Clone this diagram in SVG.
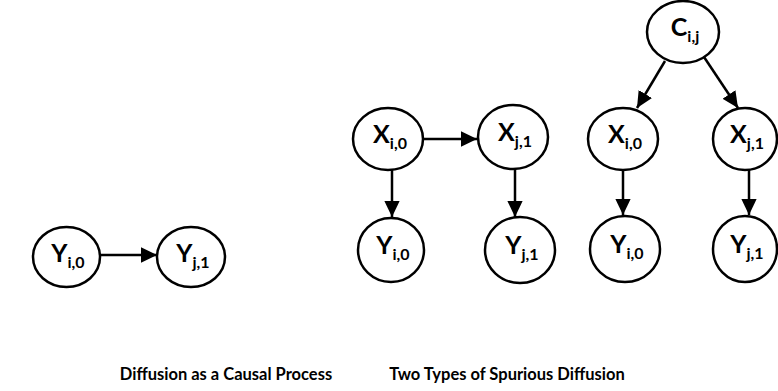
<svg xmlns="http://www.w3.org/2000/svg" width="778" height="391" viewBox="0 0 778 391">
<style>
.n{fill:#fff;stroke:#000;stroke-width:2.5}
.t{font-family:Lato,"Open Sans","Liberation Sans",sans-serif;font-weight:bold;font-size:25px;text-anchor:middle;fill:#000}
.s{font-size:16px}
.e{stroke:#000;stroke-width:2.5;fill:none;marker-end:url(#a)}
.cap{font-family:Lato,"Open Sans","Liberation Sans",sans-serif;font-weight:bold;font-size:16.5px;text-anchor:middle;fill:#000}
</style>
<defs>
<marker id="a" markerWidth="8" markerHeight="8" refX="6.5" refY="3.5" orient="auto" markerUnits="strokeWidth">
<path d="M0,0.4 L6.5,3.5 L0,6.6 Z" fill="#000"/>
</marker>
</defs>
<rect width="778" height="391" fill="#fff"/>
<g id="connectors">
<line class="e" x1="100" y1="255" x2="157" y2="255"/>
<line class="e" x1="423" y1="139" x2="477" y2="139"/>
<line class="e" x1="392" y1="170" x2="392" y2="217"/>
<line class="e" x1="515" y1="168" x2="515" y2="217"/>
<line class="e" x1="665" y1="61" x2="637" y2="108"/>
<line class="e" x1="704" y1="57" x2="738" y2="108"/>
<line class="e" x1="623" y1="170" x2="623" y2="215"/>
<line class="e" x1="749" y1="170" x2="749" y2="215"/>
</g>
<g id="n1"><ellipse class="n" cx="66.5" cy="257" rx="33.5" ry="30"/><text class="t" x="68" y="262">Y<tspan class="s" dy="6">i,0</tspan></text></g>
<g id="n2"><ellipse class="n" cx="191" cy="257" rx="34" ry="30"/><text class="t" x="193" y="262">Y<tspan class="s" dy="6">j,1</tspan></text></g>
<g id="n3"><ellipse class="n" cx="388" cy="139" rx="35" ry="31"/><text class="t" x="390" y="143">X<tspan class="s" dy="6">i,0</tspan></text></g>
<g id="n4"><ellipse class="n" cx="513" cy="137" rx="35" ry="32"/><text class="t" x="515" y="141">X<tspan class="s" dy="6">j,1</tspan></text></g>
<g id="n5"><ellipse class="n" cx="391" cy="250" rx="33" ry="32"/><text class="t" x="393" y="254">Y<tspan class="s" dy="6">i,0</tspan></text></g>
<g id="n6"><ellipse class="n" cx="520" cy="250" rx="35" ry="33"/><text class="t" x="522" y="254">Y<tspan class="s" dy="6">j,1</tspan></text></g>
<g id="n7"><ellipse class="n" cx="683" cy="32" rx="36" ry="31"/><text class="t" x="685" y="36">C<tspan class="s" dy="6">i,j</tspan></text></g>
<g id="n8"><ellipse class="n" cx="623" cy="139" rx="35" ry="31"/><text class="t" x="625" y="143">X<tspan class="s" dy="6">i,0</tspan></text></g>
<g id="n9"><ellipse class="n" cx="745" cy="139" rx="32" ry="31"/><text class="t" x="747" y="143">X<tspan class="s" dy="6">j,1</tspan></text></g>
<g id="n10"><ellipse class="n" cx="625" cy="249" rx="35" ry="33"/><text class="t" x="627" y="253">Y<tspan class="s" dy="6">i,0</tspan></text></g>
<g id="n11"><ellipse class="n" cx="745" cy="249" rx="32" ry="33"/><text class="t" x="747" y="253">Y<tspan class="s" dy="6">j,1</tspan></text></g>
<text class="cap" x="226" y="380">Diffusion as a Causal Process</text>
<text class="cap" x="507" y="380">Two Types of Spurious Diffusion</text>
</svg>
